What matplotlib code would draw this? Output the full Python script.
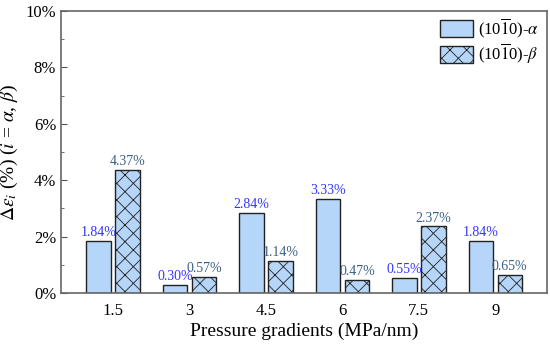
import matplotlib.pyplot as plt
import numpy as np
from matplotlib.ticker import MultipleLocator, FuncFormatter

# data
gradients = ['1.5', '3', '4.5', '6', '7.5', '9']
alpha_vals = [1.84, 0.30, 2.84, 3.33, 0.55, 1.84]
beta_vals = [4.37, 0.57, 1.14, 0.47, 2.37, 0.65]

plt.rcParams['font.family'] = ['Liberation Serif', 'DejaVu Serif']
plt.rcParams['mathtext.fontset'] = 'stix'
plt.rcParams['hatch.color'] = '#2f4a6a'
plt.rcParams['hatch.linewidth'] = 0.6

fig = plt.figure(figsize=(5.5, 3.44), dpi=100)
ax = fig.add_axes([0.111, 0.148, 0.884, 0.82])

x = np.arange(len(gradients))
w = 0.32
off = 0.19
fill = '#b5d6f8'

ax.bar(x - off, alpha_vals, w, color=fill, edgecolor='#222222', linewidth=1.0,
       label=r'(10$\overline{1}$0)-$\alpha$')
ax.bar(x + off, beta_vals, w, color=fill, edgecolor='#222222', linewidth=1.0,
       hatch='xx', label=r'(10$\overline{1}$0)-$\beta$')

for xi, v in zip(x, alpha_vals):
    ax.text(xi - off, v + 0.06, f'{v:.2f}%', ha='center', va='bottom', fontsize=10, color='#3333ff')
for xi, v in zip(x, beta_vals):
    ax.text(xi + off, v + 0.06, f'{v:.2f}%', ha='center', va='bottom', fontsize=10, color='#3d5f85')

ax.set_xlim(-0.68, 5.68)
ax.set_ylim(0, 10)
ax.set_xticks(x)
ax.set_xticklabels(gradients)
ax.yaxis.set_major_locator(MultipleLocator(2))
ax.yaxis.set_minor_locator(MultipleLocator(1))
ax.yaxis.set_major_formatter(FuncFormatter(lambda v, p: f'{v:.0f}%'))
ax.tick_params(axis='y', which='both', direction='in', labelsize=12, colors='#555555', labelcolor='black')
ax.tick_params(axis='y', which='major', length=4)
ax.tick_params(axis='y', which='minor', length=2.5)
ax.tick_params(axis='x', length=0, labelsize=12, pad=7)
for s in ax.spines.values():
    s.set_color('#666666')
    s.set_linewidth(1.2)

ax.set_xlabel('Pressure gradients (MPa/nm)', fontsize=14, labelpad=3)
ax.set_ylabel(r'$\Delta\varepsilon_i$ (%) ($i$ = $\alpha$, $\beta$)', fontsize=14, labelpad=4)

ax.legend(loc='upper right', bbox_to_anchor=(1.0, 1.01), frameon=False, fontsize=12,
          handlelength=2.0, handleheight=1.2, labelspacing=0.15, handletextpad=0.3,
          borderaxespad=0.1)

fig.savefig('out.png', dpi=100)
